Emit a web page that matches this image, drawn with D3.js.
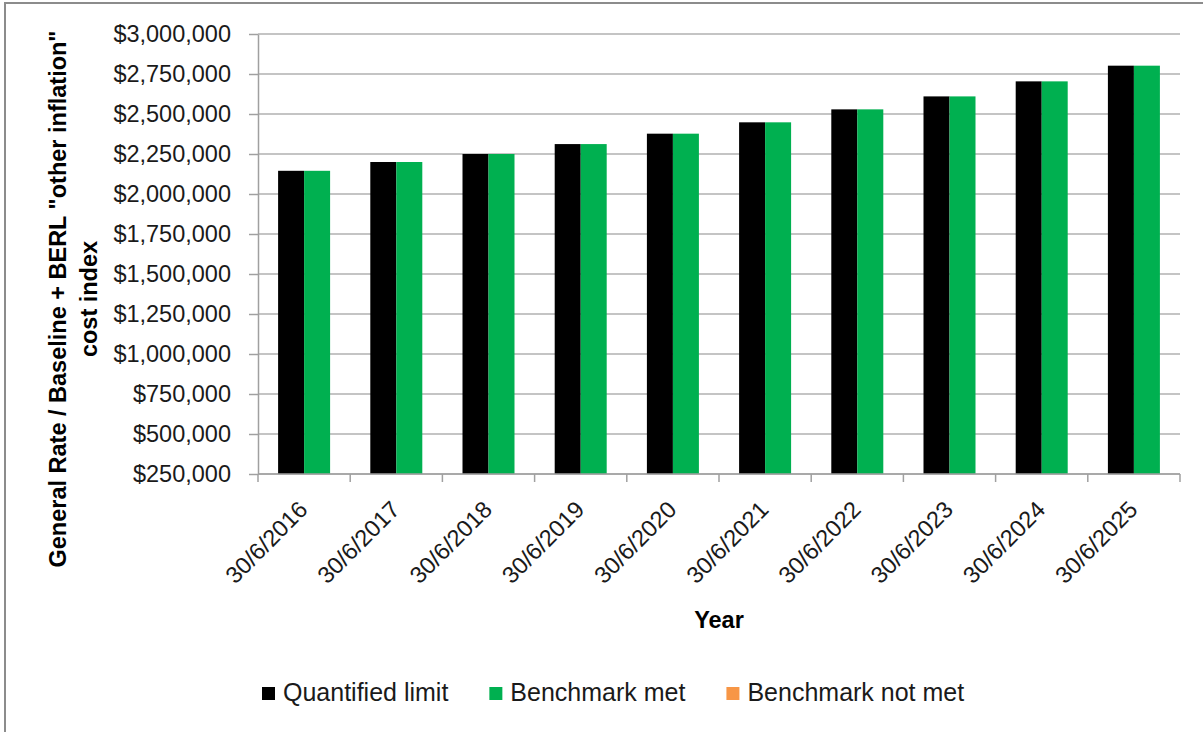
<!DOCTYPE html>
<html>
<head>
<meta charset="utf-8">
<script src="https://cdn.jsdelivr.net/npm/d3@7"></script>
<style>
  html, body { margin: 0; padding: 0; background: #ffffff; }
  svg { display: block; }
  text { font-family: "Liberation Sans", Arial, sans-serif; }
</style>
</head>
<body>
<svg id="chart" width="1203" height="732"></svg>
<script>
// Year-end dates (categories)
const categories = [
  "30/6/2016", "30/6/2017", "30/6/2018", "30/6/2019", "30/6/2020",
  "30/6/2021", "30/6/2022", "30/6/2023", "30/6/2024", "30/6/2025"
];

// Quantified limit per year
const quantifiedLimit = [
  2145000, 2200000, 2250000, 2312000, 2377000,
  2448000, 2529000, 2610000, 2704000, 2802000
];

// Actual rates where the benchmark was met
const benchmarkMet = [
  2145000, 2200000, 2250000, 2312000, 2377000,
  2448000, 2529000, 2610000, 2704000, 2802000
];

// Actual rates where the benchmark was not met (none)
const benchmarkNotMet = [null, null, null, null, null, null, null, null, null, null];

// Value axis ticks
const yTickValues = [
  250000, 500000, 750000, 1000000, 1250000, 1500000,
  1750000, 2000000, 2250000, 2500000, 2750000, 3000000
];

const seriesNames = ["Quantified limit", "Benchmark met", "Benchmark not met"];
const seriesColors = ["#000000", "#00B050", "#F79646"];

const svg = d3.select("#chart");

// Chart area frame
svg.append("rect")
  .attr("x", 5).attr("y", 3)
  .attr("width", 1400).attr("height", 900)
  .attr("fill", "#ffffff")
  .attr("stroke", "#8c8c8c")
  .attr("stroke-width", 2);

const plot = { left: 258, right: 1180, top: 34, bottom: 474 };

const y = d3.scaleLinear()
  .domain([yTickValues[0], yTickValues[yTickValues.length - 1]])
  .range([plot.bottom, plot.top]);

const x0 = d3.scaleBand()
  .domain(categories)
  .range([plot.left, plot.right])
  .padding(0);

// Two visible series share each category slot
const x1 = d3.scaleBand()
  .domain(["Quantified limit", "Benchmark met"])
  .range([0, x0.bandwidth()])
  .paddingInner(0)
  .paddingOuter(0.773);

// Horizontal gridlines
svg.append("g")
  .selectAll("line")
  .data(yTickValues)
  .join("line")
  .attr("x1", plot.left).attr("x2", plot.right)
  .attr("y1", d => y(d)).attr("y2", d => y(d))
  .attr("stroke", "#b0b0b0")
  .attr("stroke-width", 1.5);

// Value axis
const yAxis = svg.append("g")
  .attr("transform", `translate(${plot.left},0)`)
  .call(d3.axisLeft(y)
    .tickValues(yTickValues)
    .tickFormat(d3.format("$,.0f"))
    .tickSizeInner(9)
    .tickSizeOuter(0)
    .tickPadding(18));
yAxis.select(".domain").attr("stroke", "#a0a0a0").attr("stroke-width", 1.5);
yAxis.selectAll(".tick line").attr("stroke", "#a0a0a0").attr("stroke-width", 1.5);
yAxis.selectAll(".tick text")
  .attr("font-family", "'Liberation Sans', Arial, sans-serif")
  .attr("font-size", 23.5)
  .attr("fill", "#1a1a1a");

// Bars
const rows = categories.map((c, i) => ({
  category: c,
  values: [
    { name: "Quantified limit", value: quantifiedLimit[i], color: seriesColors[0] },
    { name: "Benchmark met", value: benchmarkMet[i], color: seriesColors[1] }
  ]
}));

svg.append("g")
  .selectAll("g")
  .data(rows)
  .join("g")
  .attr("transform", d => `translate(${x0(d.category)},0)`)
  .selectAll("rect")
  .data(d => d.values.filter(v => v.value != null))
  .join("rect")
  .attr("x", d => x1(d.name))
  .attr("width", x1.bandwidth())
  .attr("y", d => y(d.value))
  .attr("height", d => y.range()[0] - y(d.value))
  .attr("fill", d => d.color);

// Category axis line and boundary ticks
svg.append("line")
  .attr("x1", plot.left).attr("x2", plot.right)
  .attr("y1", plot.bottom).attr("y2", plot.bottom)
  .attr("stroke", "#a0a0a0").attr("stroke-width", 1.5);

const boundaries = categories.map(c => x0(c)).concat([x0.range()[1]]);
svg.append("g")
  .selectAll("line")
  .data(boundaries)
  .join("line")
  .attr("x1", d => d).attr("x2", d => d)
  .attr("y1", plot.bottom).attr("y2", plot.bottom + 8)
  .attr("stroke", "#a0a0a0").attr("stroke-width", 1.5);

// Rotated category labels
svg.append("g")
  .selectAll("text")
  .data(categories)
  .join("text")
  .attr("transform", d => `translate(${x0(d) + x0.bandwidth() / 2 + 5},${plot.bottom + 37}) rotate(-45)`)
  .attr("text-anchor", "end")
  .attr("font-size", 23.5)
  .attr("fill", "#1a1a1a")
  .text(d => d);

// Axis titles
svg.append("text")
  .attr("x", (plot.left + plot.right) / 2)
  .attr("y", 628)
  .attr("text-anchor", "middle")
  .attr("font-size", 23.5)
  .attr("font-weight", "bold")
  .attr("fill", "#000")
  .text("Year");

const yTitle = svg.append("text")
  .attr("transform", "translate(0,299) rotate(-90)")
  .attr("text-anchor", "middle")
  .attr("font-size", 23.5)
  .attr("font-weight", "bold")
  .attr("fill", "#000");
yTitle.append("tspan").attr("x", 0).attr("y", 66)
  .text('General Rate / Baseline + BERL "other inflation"');
yTitle.append("tspan").attr("x", 0).attr("y", 97)
  .text("cost index");

// Legend
const legend = svg.append("g");
let lx = 262;
seriesNames.forEach((name, i) => {
  legend.append("rect")
    .attr("x", lx).attr("y", 687)
    .attr("width", 13).attr("height", 13)
    .attr("fill", seriesColors[i]);
  const t = legend.append("text")
    .attr("x", lx + 21).attr("y", 701)
    .attr("font-size", 25)
    .attr("fill", "#1a1a1a")
    .text(name);
  lx = lx + 21 + t.node().getComputedTextLength() + 41;
});
</script>
</body>
</html>
